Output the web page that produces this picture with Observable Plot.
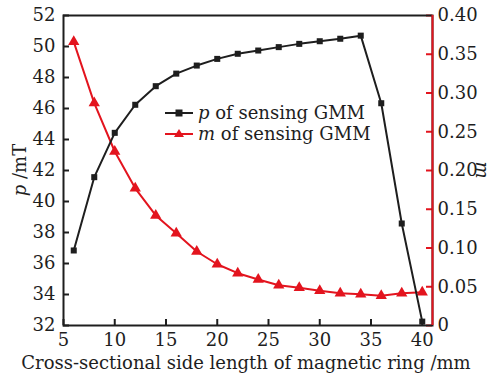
<!DOCTYPE html>
<html><head>
<meta charset="utf-8">
<script src="https://cdn.jsdelivr.net/npm/d3@7"></script>
<script src="https://cdn.jsdelivr.net/npm/@observablehq/plot@0.6"></script>
<style>
body{margin:0;background:#fff}
#c{position:relative;width:493px;height:377px}
</style>
</head><body><div id="c"></div>
<script>
const sideLength = [6,8,10,12,14,16,18,20,22,24,26,28,30,32,34,36,38,40];
const pValues = [36.84,41.57,44.43,46.24,47.44,48.25,48.77,49.2,49.53,49.74,49.96,50.17,50.34,50.5,50.7,46.34,38.58,32.25];
const mValues = [0.366,0.287,0.2245,0.177,0.142,0.119,0.0955,0.079,0.0675,0.0594,0.052,0.0486,0.0448,0.0417,0.0404,0.0383,0.0417,0.043];
const xTicks = [5,10,15,20,25,30,35,40];
const pTicks = [32,34,36,38,40,42,44,46,48,50,52];
const mTicks = [0,0.05,0.10,0.15,0.20,0.25,0.30,0.35,0.40];
const mTickLabels = ["0","0.05","0.10","0.15","0.20","0.25","0.30","0.35","0.40"];
const legendLabels = [["p"," of sensing GMM"],["m"," of sensing GMM"]];
const xTitle = "Cross-sectional side length of magnetic ring /mm";

const pDomain = [32,52], mDomain = [0,0.4], xDomain = [5,41];
const mToP = m => pDomain[0] + (m - mDomain[0]) * (pDomain[1]-pDomain[0]) / (mDomain[1]-mDomain[0]);
const rows = sideLength.map((x,i) => ({x, p:pValues[i], mp:mToP(mValues[i])}));
const mTickRows = mTicks.map((m,i) => ({y:mToP(m), label:mTickLabels[i]}));

const black = "#1e1e1e", red = "#e3141e";
const W = 493, H = 377, ML = 63, MR = 61, MT = 15, MB = 52;
const FONT = "DejaVu Serif, serif";
const FS = 18;

const chart = Plot.plot({
  width: W, height: H, marginLeft: ML, marginRight: MR, marginTop: MT, marginBottom: MB,
  style: {fontFamily: FONT, fontSize: FS + "px", background: "#fff", color: black},
  x: {domain: xDomain},
  y: {domain: pDomain},
  marks: [
    Plot.line(rows, {x: "x", y: "mp", stroke: red, strokeWidth: 2}),
    Plot.dot(rows, {x: "x", y: "mp", symbol: "triangle", fill: red, stroke: "none", r: 4.2}),
    Plot.line(rows, {x: "x", y: "p", stroke: black, strokeWidth: 2}),
    Plot.dot(rows, {x: "x", y: "p", symbol: "square", fill: black, stroke: "none", r: 3.4}),
    // inward ticks
    Plot.tickX(xTicks, {x: d => d, stroke: black, strokeWidth: 2, insetTop: H - MT - MB - 6}),
    Plot.tickY(pTicks, {y: d => d, stroke: black, strokeWidth: 2, insetRight: W - ML - MR - 6}),
    Plot.tickY(mTickRows, {y: "y", stroke: red, strokeWidth: 2, insetLeft: W - ML - MR - 6}),
    Plot.axisX({ticks: xTicks, tickSize: 0, tickPadding: 8, label: null, fill: black}),
    Plot.axisY({ticks: pTicks, tickSize: 0, tickPadding: 8, label: null, fill: black}),
    Plot.axisY(mTickRows.map(d => d.y), {anchor: "right", tickSize: 0, tickPadding: 5, label: null, fill: black,
      tickFormat: (d, i) => mTickRows[i].label}),
    Plot.frame({stroke: black, strokeWidth: 2}),
    Plot.ruleX([xDomain[1]], {stroke: red, strokeWidth: 2})
  ]
});
document.getElementById("c").appendChild(chart);

const svg = d3.select(chart);
// x title
svg.append("text").attr("x", 246).attr("y", 369)
  .attr("text-anchor", "middle").attr("font-family", FONT).attr("font-size", FS).attr("fill", black)
  .text(xTitle);
// left y title
const lt = svg.append("text").attr("transform", `translate(26,${(MT + H - MB) / 2}) rotate(-90)`)
  .attr("text-anchor", "middle").attr("font-family", FONT).attr("font-size", FS).attr("fill", black);
lt.append("tspan").attr("font-style", "italic").text("p");
lt.append("tspan").text(" /mT");
// right y title
svg.append("text").attr("transform", `translate(476,${(MT + H - MB) / 2}) rotate(90)`)
  .attr("text-anchor", "middle").attr("font-family", FONT).attr("font-size", FS).attr("fill", black)
  .attr("font-style", "italic").text("m");
// legend
const colors = [black, red];
const shapes = ["square", "triangle"];
legendLabels.forEach((lab, i) => {
  const y = 113 + i * 21;
  const g = svg.append("g");
  g.append("line").attr("x1", 165).attr("x2", 193).attr("y1", y).attr("y2", y)
    .attr("stroke", colors[i]).attr("stroke-width", 2);
  if (shapes[i] === "square") g.append("rect").attr("x", 175.5).attr("y", y - 3.5).attr("width", 7).attr("height", 7).attr("fill", colors[i]);
  else g.append("path").attr("d", `M179,${y-5}L184,${y+3}L174,${y+3}Z`).attr("fill", colors[i]);
  const t = g.append("text").attr("x", 198).attr("y", y + 6).attr("text-anchor", "start")
    .attr("font-family", FONT).attr("font-size", FS).attr("fill", black);
  t.append("tspan").attr("font-style", "italic").text(lab[0]);
  t.append("tspan").text(lab[1]);
});
</script>
</body></html>
